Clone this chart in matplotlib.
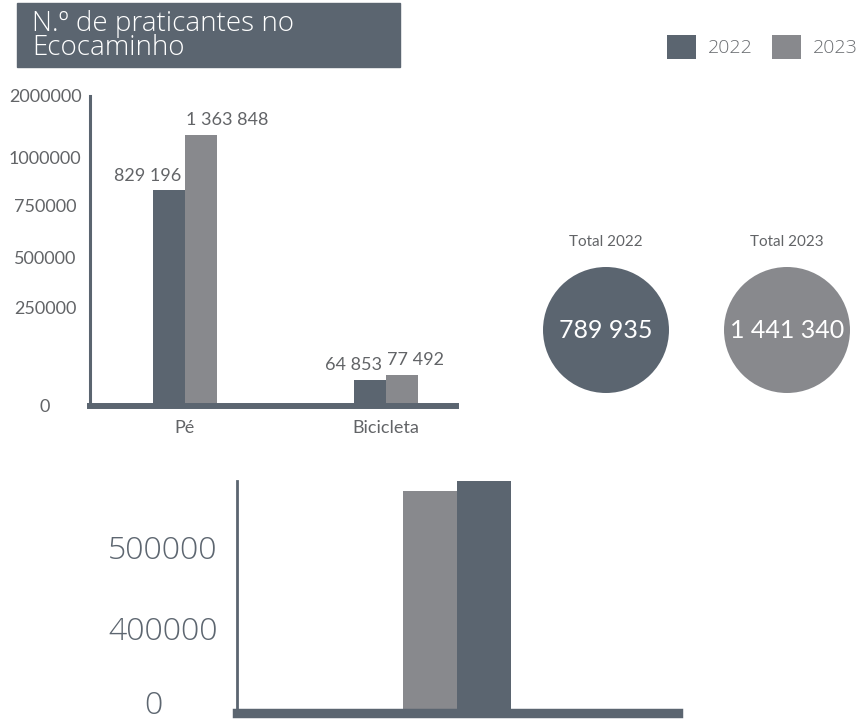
import numpy as np
import matplotlib
matplotlib.use("Agg")
import matplotlib.pyplot as plt
import matplotlib.transforms as mtransforms
from matplotlib.patches import Rectangle

# ---------------- data ----------------
categories = ["Pé", "Bicicleta"]
years = ["2022", "2023"]
vals_2022 = [829196, 64853]
vals_2023 = [1363848, 77492]

total_titles = ["Total 2022", "Total 2023"]
totals = [789935, 1441340]

y_ticks = [0, 250000, 500000, 750000, 1000000, 2000000]
y_tick_labels = ["0", "250000", "500000", "750000", "1000000", "2000000"]

lower_2023 = [569000]
lower_2022 = [581000]
lower_ticks = [0, 400000, 500000]
lower_tick_labels = ["0", "400000", "500000"]

# ---------------- style ----------------
W, H = 861, 722
DARK = "#5b6570"
GRAY = "#88898d"
TXT = "#626467"
THIN = ["Open Sans", "DejaVu Sans"]

plt.rcParams["font.family"] = ["Lato", "DejaVu Sans"]

# pixel spacing of the uneven value axes (height above the baseline)
y_tick_px = [0, 99, 149, 200, 249, 310]
lower_tick_px = [0, 85, 166]


def px_rect(x0, y0, x1, y1):
    return [x0 / W, 1 - y1 / H, (x1 - x0) / W, (y1 - y0) / H]


def fmt(v):
    return f"{v:,}".replace(",", " ")


def uneven_scale(ax, ticks, px):
    # piecewise linear scale through the tick values, continued past the last one
    v = np.array(ticks, float)
    h = np.array(px, float)
    slope = (h[-1] - h[-2]) / (v[-1] - v[-2])
    v = np.append(v, v[-1] * 10)
    h = np.append(h, h[-1] + slope * (v[-1] - v[-2]))
    fwd = lambda y: np.interp(y, v, h)
    inv = lambda y: np.interp(y, h, v)
    ax.set_yscale("function", functions=(fwd, inv))


fig = plt.figure(figsize=(W / 100, H / 100), dpi=100)

# title box
fig.patches.append(Rectangle((17 / W, 1 - 67 / H), 383 / W, 64 / H,
                             transform=fig.transFigure, color=DARK, zorder=0))
fig.text(32 / W, 1 - 36 / H, "N.º de praticantes no\nEcocaminho", color="white",
         fontsize=20, family=THIN, weight="light", va="center", ha="left",
         linespacing=0.85)

# ---------------- main bars ----------------
ax = fig.add_axes(px_rect(89.5, 96, 456, 406))
uneven_scale(ax, y_ticks, y_tick_px)
x = np.arange(len(categories))
w = 0.16
b22 = ax.bar(x - w / 2, vals_2022, w, color=DARK, label=years[0])
b23 = ax.bar(x + w / 2, vals_2023, w, color=GRAY, label=years[1])
ax.set_xlim(-0.475, 1.348)
ax.set_ylim(0, 2000000)

for rect, v in zip(b22, vals_2022):
    ax.annotate(fmt(v), (rect.get_x() + rect.get_width(), v), xytext=(-3, 5),
                textcoords="offset points", ha="right", va="bottom",
                fontsize=13, color=TXT)
for rect, v in zip(b23, vals_2023):
    ax.annotate(fmt(v), (rect.get_x(), v), xytext=(1, 5),
                textcoords="offset points", ha="left", va="bottom",
                fontsize=13, color=TXT)

for s in ["top", "right"]:
    ax.spines[s].set_visible(False)
ax.spines["left"].set_linewidth(2.2)
ax.spines["left"].set_color(DARK)
ax.spines["bottom"].set_linewidth(4.3)
ax.spines["bottom"].set_color(DARK)

ax.set_yticks(y_ticks, y_tick_labels)
ax.set_yticks([y_ticks[-1]], minor=True)
ax.tick_params(axis="y", which="major", length=0, pad=32, labelsize=13, labelcolor=TXT)
ax.tick_params(axis="y", which="minor", length=3, width=2.2, color=DARK)
for lab in ax.get_yticklabels():
    lab.set_ha("center")
ax.set_xticks(x, categories)
ax.tick_params(axis="x", length=0, pad=10, labelsize=13, labelcolor=TXT)

fig.legend(handles=[b22, b23], labels=years, loc="center left",
           bbox_to_anchor=(667 / W, 1 - 47 / H), ncol=2, frameon=False,
           prop=dict(family=THIN, weight="light", size=14), labelcolor="#6b6e72",
           handlelength=1.5, handleheight=1.5, handletextpad=0.6,
           columnspacing=1.0, borderpad=0, borderaxespad=0)

# ---------------- totals ----------------
cx = fig.add_axes(px_rect(551.7, 240, 841.3, 420))
cx.set_xlim(-0.3, 1.3)
cx.set_ylim(-1, 1)
cx.axis("off")
pos = np.arange(len(totals))
cx.scatter(pos, np.zeros(len(totals)), s=8230, c=[DARK, GRAY], linewidths=0,
           clip_on=False)
for i, (t, v) in enumerate(zip(total_titles, totals)):
    cx.annotate(t, (i, 0), xytext=(0, 63), textcoords="offset points",
                ha="center", va="center", fontsize=11, color=TXT)
    cx.text(i, 0, fmt(v), ha="center", va="center", color="white", fontsize=18)

# ---------------- lower bars ----------------
bx = fig.add_axes(px_rect(236.5, 481, 678, 713))
uneven_scale(bx, lower_ticks, lower_tick_px)
wb = 0.122
bx.bar([-wb / 2], lower_2023, wb, color=GRAY)
bx.bar([wb / 2], lower_2022, wb, color=DARK)
bx.set_xlim(-0.5, 0.5)
bx.set_ylim(0, max(lower_2022 + lower_2023))
for s in ["top", "right"]:
    bx.spines[s].set_visible(False)
bx.spines["left"].set_linewidth(2.0)
bx.spines["left"].set_color(DARK)
bx.spines["bottom"].set_linewidth(6.8)
bx.spines["bottom"].set_color(DARK)
bx.set_xticks([])
bx.set_yticks(lower_ticks, lower_tick_labels)
bx.tick_params(axis="y", length=0, pad=53, labelsize=23, labelcolor="#5d6670")
for lab in bx.get_yticklabels():
    lab.set_ha("center")
    lab.set_family(THIN)
    lab.set_weight("light")
# the zero label sits a little above the thick baseline
lift = mtransforms.ScaledTranslation(-7 / 72, 8 / 72, fig.dpi_scale_trans)
zero_lab = bx.get_yticklabels()[0]
zero_lab.set_transform(zero_lab.get_transform() + lift)

fig.savefig("out.png", dpi=100)
